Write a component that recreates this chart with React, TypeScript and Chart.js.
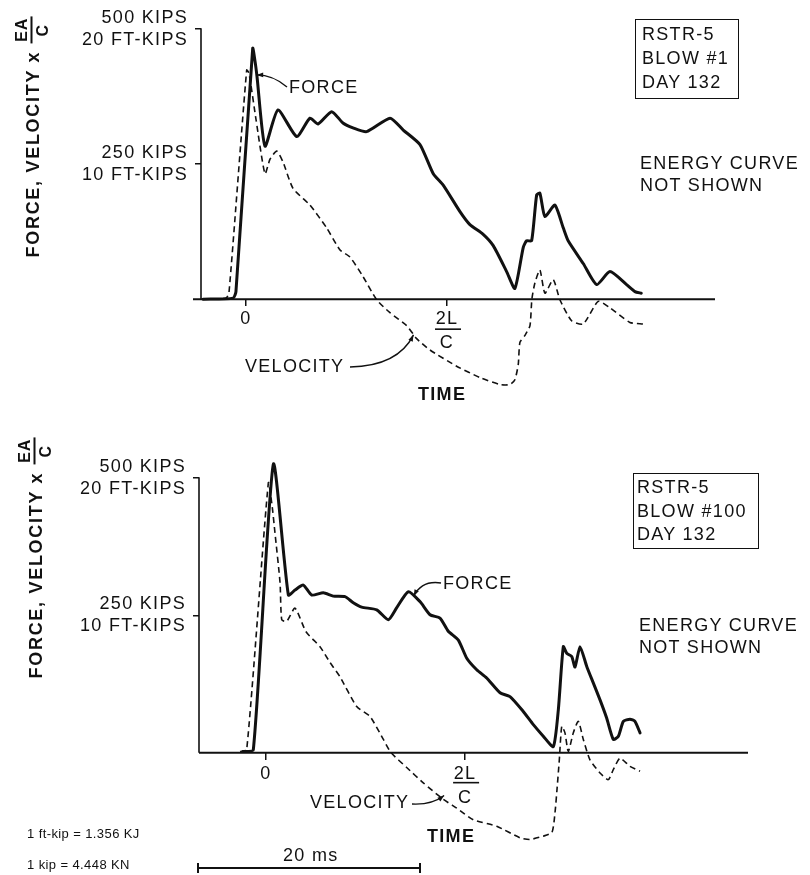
import React, { useEffect, useRef } from 'react';
import { Chart, registerables } from 'chart.js';
Chart.register(...registerables);

// ---------- DATA (time in ms, values in kips) ----------
const L2C_MS = 18;
const xTickValues = [0, L2C_MS];
const xTickLabels: (string | string[])[] = ['0', ['2L', 'C']];
const yTickValues = [250, 500];
const yTickLabels = [['250 KIPS', '10 FT-KIPS'], ['500 KIPS', '20 FT-KIPS']];

// Blow #1
const forceTopT = [-3.85, -1.16, -0.9, 0.6, 0.81, 0.98, 1.7, 2.86, 4.54, 5.73, 6.45, 7.67, 8.68, 9.58, 10.8, 12.9, 14.08, 15.58, 16.77, 17.66, 19.16, 20.05, 21.24, 22.14, 23.34, 24.08, 24.83, 25.13, 25.58, 26.03, 26.32, 26.77, 27.66, 28.41, 28.85, 30.2, 31.4, 32.59, 34.08, 34.83, 35.4];
const forceTopV = [0, 2, 14, 464, 440, 413, 283, 350, 301, 335, 324, 347, 326, 317, 310, 335, 313, 286, 232, 211, 162, 138, 120, 99, 51, 20, 96, 108, 108, 193, 196, 153, 174, 132, 108, 66, 27, 51, 27, 14, 11];
const velTopT = [-3.85, -1.79, -1.52, 0.06, 0.27, 0.9, 1.7, 2.15, 2.75, 3.31, 4.21, 5.73, 7.22, 8.42, 9.31, 10.47, 11.7, 12.89, 14.39, 15.28, 16.47, 18.86, 20.95, 22.74, 23.63, 24.08, 24.38, 24.53, 24.98, 25.43, 25.6, 25.87, 26.32, 26.77, 27.51, 28.11, 29.16, 30.2, 31.54, 32.59, 34.38, 35.57];
const velTopV = [0, 2, 13, 424, 418, 332, 232, 259, 274, 254, 205, 174, 132, 91, 78, 42, -1, -25, -49, -73, -94, -124, -145, -158, -158, -149, -121, -80, -67, -49, 0, 30, 54, 11, 36, -1, -40, -46, -4, -16, -43, -46];

// Blow #100
const forceBotT = [-2.08, -1.15, 0.66, 2.02, 2.62, 3.37, 4.13, 5.18, 6.08, 7.14, 7.89, 8.65, 10.01, 11.06, 11.82, 12.87, 13.92, 14.83, 15.73, 16.48, 17.39, 18.15, 19.05, 19.95, 21.16, 22.06, 23.26, 24.17, 25.07, 25.98, 26.43, 26.88, 27.19, 27.64, 27.94, 28.39, 29.0, 29.59, 30.2, 30.8, 31.4, 31.86, 32.31, 32.91, 33.36, 33.82];
const forceBotV = [2, 5, 525, 287, 296, 305, 287, 291, 285, 284, 273, 265, 260, 242, 264, 293, 275, 251, 245, 221, 205, 172, 151, 136, 109, 102, 75, 51, 30, 11, 78, 193, 181, 175, 156, 193, 157, 127, 96, 63, 24, 30, 57, 61, 57, 36];
const velBotT = [-2.35, -1.75, 0.21, 0.54, 0.81, 1.27, 1.42, 1.87, 2.62, 3.62, 4.88, 5.79, 6.69, 8.2, 9.4, 10.61, 11.3, 12.72, 14.22, 16.03, 17.24, 18.74, 20.86, 22.97, 23.87, 25.07, 25.86, 26.13, 26.31, 26.52, 26.74, 27.03, 27.33, 27.78, 28.24, 28.69, 29.29, 30.2, 30.95, 31.4, 32.01, 32.91, 33.82];
const velBotV = [2, 5, 491, 451, 400, 309, 242, 239, 263, 220, 193, 164, 138, 84, 66, 24, 0, -27, -55, -85, -101, -122, -134, -155, -158, -152, -145, -109, -67, -13, 48, 36, 2, 36, 57, 24, -13, -37, -49, -31, -10, -25, -34];

const INK = '#111';
const FONT = '"Liberation Sans", Arial, Helvetica, sans-serif';

const pts = (t: number[], v: number[]) => t.map((x, i) => ({ x, y: v[i] }));

const customAxes = {
  id: 'customAxes',
  beforeDraw(chart: any) {
    try { (chart.ctx as any).letterSpacing = '1.3px'; } catch (e) {}
  },
  afterDraw(chart: any, _args: any, opts: any) {
    const { ctx, chartArea, scales } = chart;
    const x = scales.x, y = scales.y;
    const y0 = y.getPixelForValue(0);
    const yTop = y.getPixelForValue(Math.max(...yTickValues));
    ctx.save();
    ctx.strokeStyle = INK;
    ctx.fillStyle = INK;
    ctx.lineCap = 'butt';
    // y axis line
    ctx.lineWidth = 1.6;
    ctx.beginPath();
    ctx.moveTo(chartArea.left, yTop - 0.8);
    ctx.lineTo(chartArea.left, y0);
    ctx.stroke();
    // x axis line
    ctx.lineWidth = 2;
    ctx.beginPath();
    ctx.moveTo(chartArea.left - (opts.extendLeft || 0), y0);
    ctx.lineTo(chartArea.right, y0);
    ctx.stroke();
    // fraction bar of 2L/C tick label
    const xp = x.getPixelForValue(L2C_MS) + 1;
    ctx.lineWidth = 1.6;
    ctx.beginPath();
    ctx.moveTo(xp - 13, y0 + opts.barOffset);
    ctx.lineTo(xp + 13, y0 + opts.barOffset);
    ctx.stroke();
    // leaders
    for (const l of opts.leaders || []) {
      const tx = x.getPixelForValue(l.tipT);
      const ty = y.getPixelForValue(l.tipV);
      ctx.lineWidth = 1.4;
      ctx.beginPath();
      ctx.moveTo(l.fromX, l.fromY);
      ctx.quadraticCurveTo(l.ctrlX, l.ctrlY, tx, ty);
      ctx.stroke();
      const ang = Math.atan2(ty - l.ctrlY, tx - l.ctrlX);
      const s = 7;
      ctx.beginPath();
      ctx.moveTo(tx, ty);
      ctx.lineTo(tx - s * Math.cos(ang - 0.35), ty - s * Math.sin(ang - 0.35));
      ctx.lineTo(tx - s * Math.cos(ang + 0.35), ty - s * Math.sin(ang + 0.35));
      ctx.closePath();
      ctx.fill();
    }
    ctx.restore();
  },
};

function makeConfig(p: any): any {
  return {
    type: 'line',
    data: {
      datasets: [
        {
          label: 'Force',
          data: pts(p.forceT, p.forceV),
          borderColor: INK,
          borderWidth: 3,
          pointRadius: 0,
          tension: 0.2,
          borderJoinStyle: 'round',
          borderCapStyle: 'round',
          fill: false,
          clip: false,
        },
        {
          label: 'Velocity',
          data: pts(p.velT, p.velV),
          borderColor: INK,
          borderWidth: 1.6,
          borderDash: [6, 4],
          pointRadius: 0,
          tension: 0.2,
          fill: false,
          clip: false,
        },
      ],
    },
    options: {
      animation: false,
      responsive: false,
      maintainAspectRatio: false,
      events: [],
      layout: { padding: p.padding },
      plugins: {
        legend: { display: false },
        tooltip: { enabled: false },
        customAxes: { extendLeft: p.extendLeft, barOffset: 30, leaders: p.leaders },
      },
      scales: {
        x: {
          type: 'linear',
          min: p.xMin,
          max: p.xMax,
          position: { y: 0 },
          border: { display: false },
          grid: { drawOnChartArea: false, drawTicks: true, tickLength: 7, color: INK, lineWidth: 1.5 },
          afterBuildTicks: (s: any) => { s.ticks = xTickValues.map((v) => ({ value: v })); },
          ticks: {
            autoSkip: false,
            maxRotation: 0,
            padding: p.xPad,
            color: INK,
            font: { family: FONT, size: 18, lineHeight: 1.34 },
            callback: (v: number) => xTickLabels[xTickValues.indexOf(v)],
          },
        },
        y: {
          type: 'linear',
          min: -170,
          max: 500,
          border: { display: false },
          grid: { drawOnChartArea: false, drawTicks: true, tickLength: 6, color: INK, lineWidth: 1.5 },
          afterBuildTicks: (s: any) => { s.ticks = yTickValues.map((v) => ({ value: v })); },
          afterFit: (s: any) => { s.width = p.yWidth; },
          ticks: {
            padding: 7,
            color: INK,
            font: { family: FONT, size: 18, lineHeight: 1.22 },
            callback: (v: number) => yTickLabels[yTickValues.indexOf(v)],
          },
        },
      },
    },
    plugins: [customAxes],
  };
}

const topParams = {
  forceT: forceTopT, forceV: forceTopV, velT: velTopT, velV: velTopV,
  padding: { left: 0, top: 27, right: 95, bottom: 23.2 },
  yWidth: 201, xMin: -4.03, xMax: 42, xPad: 1, extendLeft: 8,
  leaders: [
    { tipT: 0.95, tipV: 415, fromX: 287, fromY: 87, ctrlX: 273, ctrlY: 75 },
    { tipT: 15.0, tipV: -66, fromX: 350, fromY: 367, ctrlX: 398, ctrlY: 366 },
  ],
};
const botParams = {
  forceT: forceBotT, forceV: forceBotV, velT: velBotT, velV: velBotV,
  padding: { left: 0, top: 58, right: 62, bottom: 28.5 },
  yWidth: 199, xMin: -6.06, xMax: 43.58, xPad: 2, extendLeft: 0,
  leaders: [
    { tipT: 13.35, tipV: 285, fromX: 441, fromY: 163, ctrlX: 422, ctrlY: 160 },
    { tipT: 16.1, tipV: -78, fromX: 412, fromY: 384, ctrlX: 432, ctrlY: 385 },
  ],
};

function ChartCanvas({ params, top, height }: { params: any; top: number; height: number }) {
  const ref = useRef<HTMLCanvasElement | null>(null);
  useEffect(() => {
    if (!ref.current) return;
    const c = new Chart(ref.current, makeConfig(params));
    return () => c.destroy();
  }, [params]);
  return (
    <canvas
      ref={ref}
      width={810}
      height={height}
      style={{ position: 'absolute', left: 0, top, width: 810, height }}
    />
  );
}

const baseText: React.CSSProperties = {
  position: 'absolute',
  fontFamily: FONT,
  fontSize: 18,
  color: INK,
  letterSpacing: '1.3px',
  whiteSpace: 'nowrap',
};

function Txt({ x, cy, children, bold, size = 18, lh = 22, ls }: any) {
  return (
    <div
      style={{
        ...baseText,
        left: x,
        top: cy - lh / 2,
        lineHeight: lh + 'px',
        fontSize: size,
        fontWeight: bold ? 'bold' : 'normal',
        letterSpacing: ls !== undefined ? ls : baseText.letterSpacing,
      }}
    >
      {children}
    </div>
  );
}

function Box({ x, y, w, h, lines, lh, padTop, padLeft }: any) {
  return (
    <div
      style={{
        ...baseText,
        left: x,
        top: y,
        width: w,
        height: h,
        boxSizing: 'border-box',
        border: '1.5px solid ' + INK,
        paddingTop: padTop,
        paddingLeft: padLeft,
        lineHeight: lh + 'px',
      }}
    >
      {lines.map((l: string, i: number) => (
        <div key={i}>{l}</div>
      ))}
    </div>
  );
}

function YTitle({ cx, cy }: { cx: number; cy: number }) {
  return (
    <div
      style={{
        ...baseText,
        left: cx,
        top: cy,
        transform: 'translate(-50%, -50%) rotate(-90deg)',
        display: 'flex',
        alignItems: 'center',
        fontWeight: 'bold',
        letterSpacing: '1.7px',
        lineHeight: '20px',
      }}
    >
      <span>FORCE, VELOCITY x</span>
      <span
        style={{
          display: 'inline-flex',
          flexDirection: 'column',
          alignItems: 'center',
          marginLeft: 7,
          fontSize: 16,
          lineHeight: '16px',
          letterSpacing: '1px',
        }}
      >
        <span style={{ borderBottom: '2px solid ' + INK, padding: '0 1px 1px 2px' }}>EA</span>
        <span style={{ paddingTop: 2 }}>C</span>
      </span>
    </div>
  );
}

export default function App() {
  return (
    <div style={{ position: 'absolute', left: 0, top: 0, width: 810, height: 875, background: '#fff', overflow: 'hidden' }}>
      <ChartCanvas params={topParams} top={0} height={420} />
      <ChartCanvas params={botParams} top={420} height={455} />

      {/* top panel annotations */}
      <YTitle cx={32} cy={137} />
      <Box x={635} y={19} w={104} h={80} lines={['RSTR-5', 'BLOW #1', 'DAY 132']} lh={24} padTop={2} padLeft={6} />
      <Txt x={640} cy={163}>ENERGY CURVE</Txt>
      <Txt x={640} cy={185}>NOT SHOWN</Txt>
      <Txt x={289} cy={87}>FORCE</Txt>
      <Txt x={245} cy={366}>VELOCITY</Txt>
      <Txt x={418} cy={394} bold>TIME</Txt>

      {/* bottom panel annotations */}
      <YTitle cx={35} cy={558} />
      <Box x={633} y={473} w={126} h={76} lines={['RSTR-5', 'BLOW #100', 'DAY 132']} lh={23.5} padTop={2} padLeft={3} />
      <Txt x={639} cy={625}>ENERGY CURVE</Txt>
      <Txt x={639} cy={647}>NOT SHOWN</Txt>
      <Txt x={443} cy={583}>FORCE</Txt>
      <Txt x={310} cy={802}>VELOCITY</Txt>
      <Txt x={427} cy={836} bold>TIME</Txt>

      {/* scale and unit notes */}
      <Txt x={283} cy={855}>20 ms</Txt>
      <div style={{ position: 'absolute', left: 198, top: 867, width: 222, height: 2, background: INK }} />
      <div style={{ position: 'absolute', left: 197, top: 863, width: 2, height: 10, background: INK }} />
      <div style={{ position: 'absolute', left: 419, top: 863, width: 2, height: 10, background: INK }} />
      <Txt x={27} cy={834} size={13} lh={16} ls="0.4px">1 ft-kip = 1.356 KJ</Txt>
      <Txt x={27} cy={865} size={13} lh={16} ls="0.4px">1 kip = 4.448 KN</Txt>
    </div>
  );
}
